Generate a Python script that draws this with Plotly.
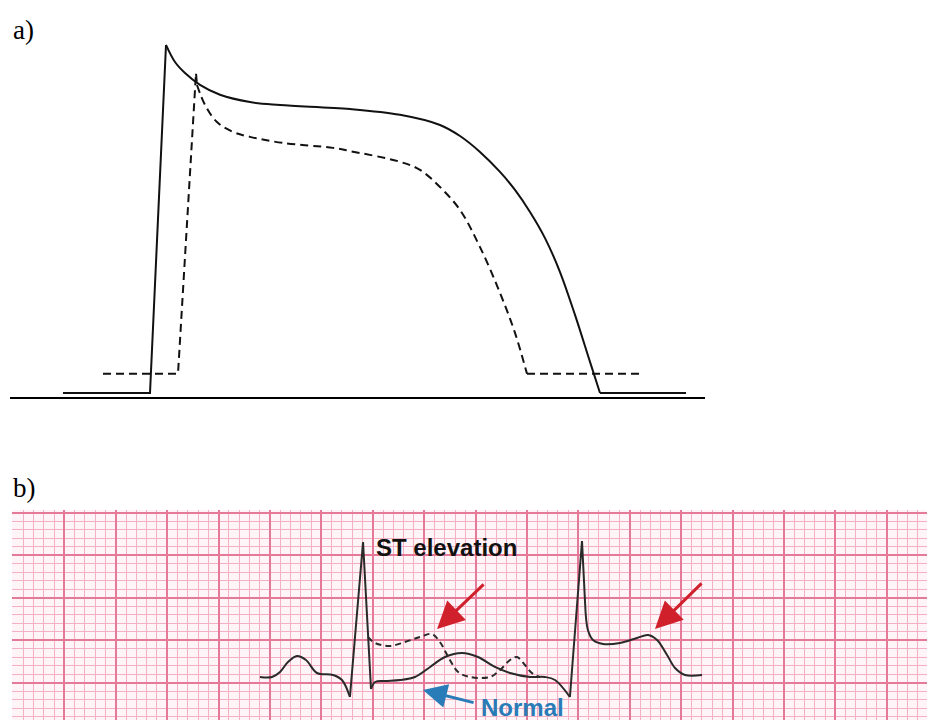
import plotly.graph_objects as go

# ---------------- Panel a: action potential (time in ms, potential in mV) -------------
ap_normal_up_t = [-87, 0, 16]
ap_normal_up_v = [-90, -90, 30]
ap_normal_plateau_t = [16, 25, 35, 50, 70, 100, 130, 200, 250, 290, 310, 330, 350, 365, 380, 395, 410, 425, 440, 450]
ap_normal_plateau_v = [30, 24.1, 20.3, 16.2, 12.8, 10.3, 9.3, 7.9, 5.9, 2.4, -1.4, -6.9, -13.8, -20.0, -27.6, -36.6, -48.3, -63.1, -79.3, -90]
ap_normal_rest_t = [450, 536]
ap_normal_rest_v = [-90, -90]

ap_isch_up_t = [-47, 28, 46, 47]
ap_isch_up_v = [-83.4, -83.4, 20.3, 16.2]
ap_isch_plateau_t = [47, 55, 67, 83, 100, 133, 183, 200, 250, 270, 290, 310, 330, 350, 365, 377]
ap_isch_plateau_v = [16.2, 9.3, 3.4, 0, -1.7, -3.8, -5.5, -6.6, -10.3, -13.1, -19.0, -26.9, -39.7, -55.5, -69.3, -83.4]
ap_isch_rest_t = [377, 492]
ap_isch_rest_v = [-83.4, -83.4]

# ---------------- Panel b: ECG (time in s, voltage in mV) -------------
ecg_p_t = [0.961, 1.008, 1.039, 1.070, 1.105, 1.140, 1.183, 1.245, 1.280, 1.311]
ecg_p_v = [0, 0, 0.059, 0.176, 0.247, 0.200, 0.047, 0.024, -0.035, -0.235]
ecg_qrs1_t = [1.311, 1.362, 1.393]
ecg_qrs1_v = [-0.235, 1.588, -0.141]
ecg_normal_st_t = [1.393, 1.409, 1.447, 1.506, 1.564, 1.623, 1.681, 1.747, 1.809, 1.875, 1.934, 2.012, 2.070, 2.109, 2.167]
ecg_normal_st_v = [-0.141, -0.059, -0.047, -0.035, 0, 0.118, 0.235, 0.282, 0.235, 0.118, 0.047, 0, 0, -0.035, -0.235]
ecg_qrs2_t = [2.167, 2.214, 2.226]
ecg_qrs2_v = [-0.235, 1.600, 0.871]
ecg_elev2_t = [2.226, 2.237, 2.257, 2.296, 2.362, 2.428, 2.471, 2.506, 2.545, 2.576, 2.615, 2.681]
ecg_elev2_v = [0.871, 0.553, 0.435, 0.388, 0.400, 0.459, 0.494, 0.435, 0.259, 0.106, 0.024, 0.024]
ecg_elev1_t = [1.381, 1.409, 1.467, 1.525, 1.584, 1.630, 1.661, 1.700, 1.732, 1.778, 1.856, 1.895, 1.934, 1.961, 1.992, 2.019, 2.051]
ecg_elev1_v = [0.471, 0.400, 0.365, 0.412, 0.471, 0.506, 0.412, 0.200, 0.059, 0, 0, 0.082, 0.200, 0.235, 0.141, 0.047, 0]

# arrows: (tip_t, tip_v, tail_t, tail_v)
red_arrows = [(1.650, 0.565, 1.837, 1.106), (2.498, 0.565, 2.685, 1.118)]
blue_arrow = (1.595, -0.153, 1.798, -0.306)
st_label = ("ST elevation", 1.685, 1.518)
normal_label = ("Normal", 1.984, -0.36)

W, H = 927, 720
fig = go.Figure()

solid_a = dict(color="#111111", width=2)
dash_a = dict(color="#111111", width=2, dash="8px,5px")

def add(t, v, line, shape="linear", xa="x", ya="y"):
    fig.add_trace(go.Scatter(x=t, y=v, mode="lines", line=dict(**line, shape=shape),
                             xaxis=xa, yaxis=ya, hoverinfo="skip", showlegend=False))

add(ap_normal_up_t, ap_normal_up_v, solid_a)
add(ap_normal_plateau_t, ap_normal_plateau_v, solid_a, "spline")
add(ap_normal_rest_t, ap_normal_rest_v, solid_a)
add(ap_isch_up_t, ap_isch_up_v, dash_a)
add(ap_isch_plateau_t, ap_isch_plateau_v, dash_a, "spline")
add(ap_isch_rest_t, ap_isch_rest_v, dash_a)

solid_b = dict(color="#2a2a2a", width=2)
dash_b = dict(color="#2a2a2a", width=2, dash="6px,4px")
add(ecg_p_t, ecg_p_v, solid_b, "spline", "x2", "y2")
add(ecg_qrs1_t, ecg_qrs1_v, solid_b, "linear", "x2", "y2")
add(ecg_normal_st_t, ecg_normal_st_v, solid_b, "spline", "x2", "y2")
add(ecg_qrs2_t, ecg_qrs2_v, solid_b, "linear", "x2", "y2")
add(ecg_elev2_t, ecg_elev2_v, solid_b, "spline", "x2", "y2")
add(ecg_elev1_t, ecg_elev1_v, dash_b, "spline", "x2", "y2")

annotations = [
    dict(text="a)", xref="paper", yref="paper", x=11 / W, y=1 - 30 / H, xanchor="left", yanchor="middle",
         showarrow=False, font=dict(family="Liberation Serif", size=27, color="#000000")),
    dict(text="b)", xref="paper", yref="paper", x=11 / W, y=1 - 488 / H, xanchor="left", yanchor="middle",
         showarrow=False, font=dict(family="Liberation Serif", size=27, color="#000000")),
    dict(text="<b>" + st_label[0] + "</b>", xref="x2", yref="y2", x=st_label[1], y=st_label[2],
         showarrow=False, xanchor="center", yanchor="middle",
         font=dict(family="Liberation Sans", size=24, color="#111111")),
    dict(text="<b>" + normal_label[0] + "</b>", xref="x2", yref="y2", x=normal_label[1], y=normal_label[2],
         showarrow=False, xanchor="center", yanchor="middle",
         font=dict(family="Liberation Sans", size=24, color="#2a7cb8")),
]
for tip_t, tip_v, tail_t, tail_v in red_arrows:
    annotations.append(dict(text="", x=tip_t, y=tip_v, xref="x2", yref="y2", ax=tail_t, ay=tail_v,
                            axref="x2", ayref="y2", showarrow=True, arrowhead=2, arrowsize=1.8,
                            arrowwidth=3, arrowcolor="#d0202c"))
annotations.append(dict(text="", x=blue_arrow[0], y=blue_arrow[1], xref="x2", yref="y2", ax=blue_arrow[2],
                        ay=blue_arrow[3], axref="x2", ayref="y2", showarrow=True, arrowhead=2,
                        arrowsize=1.6, arrowwidth=3, arrowcolor="#2a7cb8"))

major_c = "#e47a98"
minor_c = "#f2b0c2"
fig.update_layout(
    width=W, height=H, margin=dict(l=0, r=0, t=0, b=0), paper_bgcolor="white", plot_bgcolor="white",
    showlegend=False, annotations=annotations,
    xaxis=dict(domain=[10 / W, 705 / W], range=[-140, 555], showgrid=False, zeroline=False,
               showticklabels=False, ticks="", showline=True, linecolor="#000000", linewidth=2),
    yaxis=dict(domain=[1 - 397 / H, 1 - 40 / H], range=[-91.4, 31.7], showgrid=False, zeroline=False,
               showticklabels=False, ticks="", showline=False),
    xaxis2=dict(domain=[12 / W, 1], range=[-0.0039, 3.5564], anchor="y2", showgrid=True, gridcolor=major_c,
                gridwidth=1.6, tick0=0, dtick=0.2, zeroline=False, showticklabels=False, ticks="",
                minor=dict(showgrid=True, tick0=0, dtick=0.04, gridcolor=minor_c, gridwidth=1)),
    yaxis2=dict(domain=[0, 1 - 510 / H], range=[-0.506, 1.965], anchor="x2", showgrid=True, gridcolor=major_c,
                gridwidth=1.6, tick0=-0.065, dtick=0.5, zeroline=False, showticklabels=False, ticks="",
                minor=dict(showgrid=True, tick0=-0.065, dtick=0.1, gridcolor=minor_c, gridwidth=1)),
)
fig.add_shape(type="rect", xref="x2 domain", yref="y2 domain", x0=0, x1=1, y0=0, y1=1,
              fillcolor="#fff4f7", line=dict(width=0), layer="below")

fig.write_html("out.html")
